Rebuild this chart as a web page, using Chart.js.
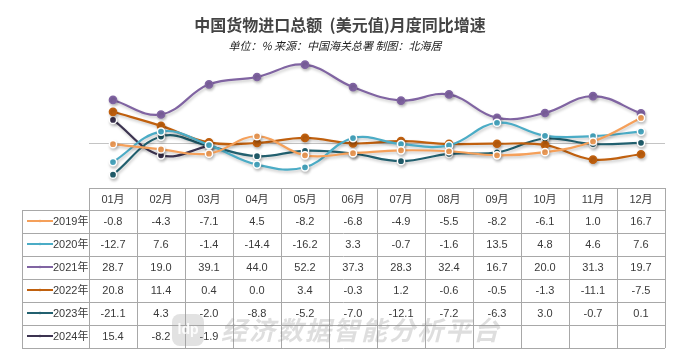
<!DOCTYPE html>
<html>
<head>
<meta charset="utf-8">
<script src="https://cdn.jsdelivr.net/npm/chart.js@4.4.1/dist/chart.umd.min.js"></script>
<style>
    html, body { margin: 0; padding: 0; background: #fff; }
    #wrap { width: 681px; height: 354px; position: relative; }
</style>
</head>
<body>
<div id="wrap"><canvas id="importChart" width="681" height="354"></canvas></div>
<script>
// 月份与各年数据 (单位: %)
const months = ['01月', '02月', '03月', '04月', '05月', '06月', '07月', '08月', '09月', '10月', '11月', '12月'];
const years = ['2019年', '2020年', '2021年', '2022年', '2023年', '2024年'];

const y2019 = [-0.8, -4.3, -7.1, 4.5, -8.2, -6.8, -4.9, -5.5, -8.2, -6.1, 1.0, 16.7];
const y2020 = [-12.7, 7.6, -1.4, -14.4, -16.2, 3.3, -0.7, -1.6, 13.5, 4.8, 4.6, 7.6];
const y2021 = [28.7, 19.0, 39.1, 44.0, 52.2, 37.3, 28.3, 32.4, 16.7, 20.0, 31.3, 19.7];
const y2022 = [20.8, 11.4, 0.4, 0.0, 3.4, -0.3, 1.2, -0.6, -0.5, -1.3, -11.1, -7.5];
const y2023 = [-21.1, 4.3, -2.0, -8.8, -5.2, -7.0, -12.1, -7.2, -6.3, 3.0, -0.7, 0.1];
const y2024 = [15.4, -8.2, -1.9, null, null, null, null, null, null, null, null, null];

const seriesData = [y2019, y2020, y2021, y2022, y2023, y2024];
const colors = ['#f5a05a', '#4bacc6', '#8064a2', '#c0600e', '#22606f', '#3c3350'];
const whiteBorder = [true, true, false, false, true, true];

const TABLE_TOP = 188;
const HEADER_H = 22;
const ROW_H = 23;
const LABEL_LEFT = 22;

function drawText(ctx, text, x, y, font, color, align) {
    ctx.font = font;
    ctx.fillStyle = color;
    ctx.textAlign = align || 'center';
    ctx.textBaseline = 'middle';
    ctx.fillText(text, x, y);
}

const decorPlugin = {
    id: 'decor',
    beforeDatasetsDraw(chart) {
        const { ctx, chartArea, scales } = chart;
        const y0 = Math.round(scales.y.getPixelForValue(0)) + 0.5;
        ctx.save();
        ctx.strokeStyle = '#c4c4c4';
        ctx.lineWidth = 1;
        ctx.beginPath();
        ctx.moveTo(chartArea.left, y0);
        ctx.lineTo(chartArea.right, y0);
        ctx.stroke();
        ctx.restore();

        ctx.save();
        ctx.shadowColor = 'rgba(0,0,0,0.22)';
        ctx.shadowBlur = 3;
        ctx.shadowOffsetX = 1;
        ctx.shadowOffsetY = 2;
    },
    afterDatasetsDraw(chart) {
        chart.ctx.restore();
    },
    afterDraw(chart) {
        const { ctx, scales } = chart;
        const x = scales.x;
        const colW = x.width / months.length;
        const left = x.left;
        const right = x.right;
        const bottom = TABLE_TOP + HEADER_H + ROW_H * years.length;

        // 标题
        drawText(ctx, '中国货物进口总额  (美元值)月度同比增速', 340, 25, 'bold 16px "Noto Sans CJK SC"', '#444');
        drawText(ctx, '单位：% 来源：中国海关总署 制图：北海居', 335, 46, 'italic 11px "Noto Sans CJK SC"', '#222');

        // 表格线
        ctx.save();
        ctx.strokeStyle = '#a8a8a8';
        ctx.lineWidth = 1;
        ctx.beginPath();
        ctx.moveTo(left, TABLE_TOP + 0.5);
        ctx.lineTo(right, TABLE_TOP + 0.5);
        for (let r = 0; r <= years.length; r++) {
            const yy = Math.round(TABLE_TOP + HEADER_H + r * ROW_H) + 0.5;
            ctx.moveTo(LABEL_LEFT, yy);
            ctx.lineTo(right, yy);
        }
        ctx.moveTo(LABEL_LEFT + 0.5, TABLE_TOP + HEADER_H);
        ctx.lineTo(LABEL_LEFT + 0.5, bottom);
        for (let c = 0; c <= months.length; c++) {
            const xx = Math.round(left + c * colW) + 0.5;
            ctx.moveTo(xx, TABLE_TOP);
            ctx.lineTo(xx, bottom);
        }
        ctx.stroke();
        ctx.restore();

        // 表头
        months.forEach((m, i) => {
            drawText(ctx, m, x.getPixelForValue(i), TABLE_TOP + HEADER_H / 2 + 1, '11px "Liberation Sans", "Noto Sans CJK SC"', '#3a3a3a');
        });

        // 行
        years.forEach((yr, r) => {
            const cy = TABLE_TOP + HEADER_H + r * ROW_H + ROW_H / 2 + 0.5;
            ctx.save();
            ctx.strokeStyle = colors[r];
            ctx.lineWidth = 2;
            ctx.beginPath();
            ctx.moveTo(27, cy - 1);
            ctx.lineTo(53, cy - 1);
            ctx.stroke();
            ctx.fillStyle = colors[r];
            ctx.beginPath();
            ctx.arc(40, cy - 1, 1.3, 0, Math.PI * 2);
            ctx.fill();
            ctx.restore();
            drawText(ctx, yr, 53, cy, '11px "Liberation Sans", "Noto Sans CJK SC"', '#3a3a3a', 'left');

            seriesData[r].forEach((v, i) => {
                if (v === null) return;
                drawText(ctx, v.toFixed(1), x.getPixelForValue(i), cy, '11px "Liberation Sans"', '#3a3a3a');
            });
        });

        // 水印
        ctx.save();
        ctx.globalAlpha = 0.3;
        ctx.fillStyle = '#a0a0a0';
        ctx.beginPath();
        ctx.roundRect(172, 314, 32, 32, 8);
        ctx.fill();
        ctx.globalAlpha = 0.9;
        drawText(ctx, 'ldp', 188, 330, 'bold 14px "Liberation Sans"', '#fff');
        ctx.globalAlpha = 0.28;
        ctx.font = 'italic bold 26px "Noto Sans CJK SC"';
        ctx.fillStyle = '#8a8a8a';
        ctx.textAlign = 'left';
        ctx.textBaseline = 'middle';
        const mark = '经济数据智能分析平台';
        for (let k = 0; k < mark.length; k++) {
            ctx.fillText(mark[k], 221 + k * 28, 330);
        }
        ctx.restore();
    }
};

const ctx = document.getElementById('importChart').getContext('2d');

new Chart(ctx, {
    type: 'line',
    data: {
        labels: months,
        datasets: years.map((yr, i) => ({
            label: yr,
            data: seriesData[i],
            borderColor: colors[i],
            backgroundColor: colors[i],
            borderWidth: 2.2,
            tension: 0.4,
            pointRadius: 3.6,
            pointBorderWidth: 1.5,
            pointBorderColor: whiteBorder[i] ? '#fff' : colors[i],
            pointBackgroundColor: colors[i],
            spanGaps: false,
            clip: false
        }))
    },
    options: {
        responsive: false,
        animation: false,
        events: [],
        layout: {
            padding: { left: 89, right: 16, top: 56, bottom: 172 }
        },
        plugins: {
            legend: { display: false },
            title: { display: false },
            tooltip: { enabled: false }
        },
        scales: {
            x: { display: false, offset: true },
            y: { display: false, min: -26, max: 58 }
        }
    },
    plugins: [decorPlugin]
});
</script>
</body>
</html>
